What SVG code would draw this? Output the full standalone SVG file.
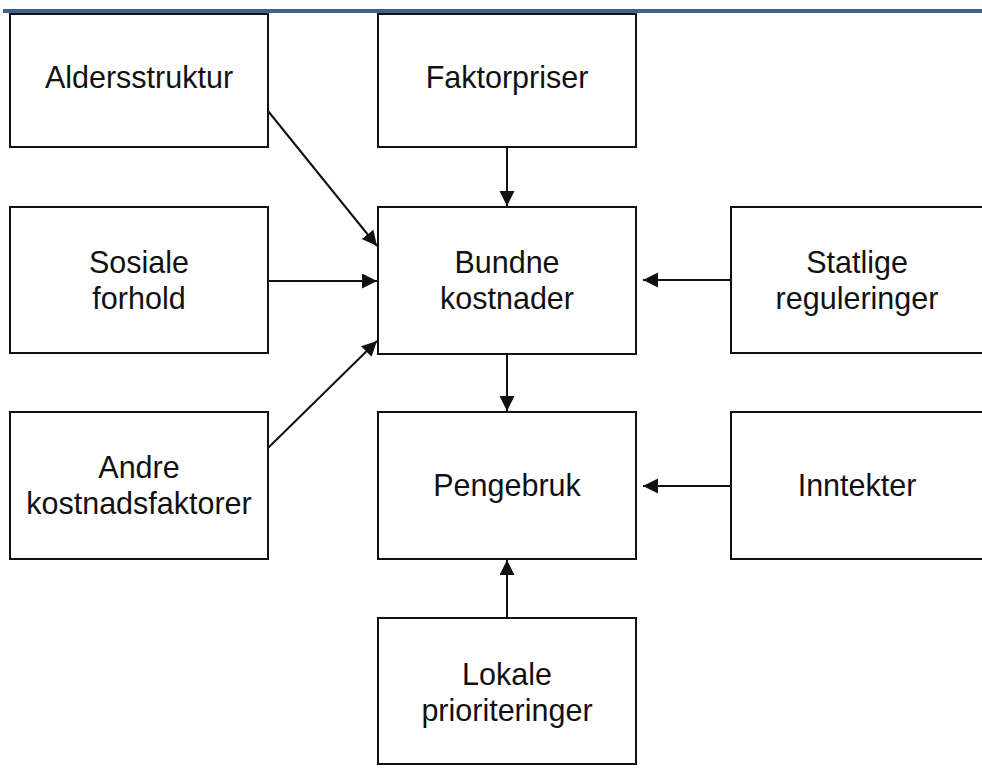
<svg xmlns="http://www.w3.org/2000/svg" width="982" height="778" viewBox="0 0 982 778">
<style>
.box{fill:#fff;stroke:#111;stroke-width:2}
.t{font-family:"Liberation Sans",Arial,sans-serif;font-size:30.5px;fill:#111;text-anchor:middle}
.c{stroke:#111;stroke-width:2;fill:none;marker-end:url(#ah)}
</style>
<defs>
<marker id="ah" markerUnits="userSpaceOnUse" markerWidth="16" markerHeight="16" refX="15" refY="7.5" orient="auto">
<path d="M0,0 L15,7.5 L0,15 Z" fill="#111"/>
</marker>
</defs>
<rect width="982" height="778" fill="#fff"/>
<g id="alder"><rect class="box" x="10" y="14" width="258" height="133"/><text class="t" x="139" y="88">Aldersstruktur</text></g>
<g id="faktor"><rect class="box" x="378" y="14" width="258" height="133"/><text class="t" x="507" y="88">Faktorpriser</text></g>
<g id="sosiale"><rect class="box" x="10" y="207" width="258" height="146"/><text class="t" x="139" y="273">Sosiale</text><text class="t" x="139" y="309">forhold</text></g>
<g id="bundne"><rect class="box" x="378" y="207" width="258" height="147"/><text class="t" x="507" y="273">Bundne</text><text class="t" x="507" y="309">kostnader</text></g>
<g id="statlige"><rect class="box" x="731" y="207" width="260" height="146"/><text class="t" x="857" y="273">Statlige</text><text class="t" x="857" y="309">reguleringer</text></g>
<g id="andre"><rect class="box" x="10" y="412" width="258" height="147"/><text class="t" x="139" y="478">Andre</text><text class="t" x="139" y="514">kostnadsfaktorer</text></g>
<g id="pengebruk"><rect class="box" x="378" y="412" width="258" height="147"/><text class="t" x="507" y="496">Pengebruk</text></g>
<g id="inntekter"><rect class="box" x="731" y="412" width="260" height="147"/><text class="t" x="857" y="496">Inntekter</text></g>
<g id="lokale"><rect class="box" x="378" y="618" width="258" height="146"/><text class="t" x="507" y="685">Lokale</text><text class="t" x="507" y="721">prioriteringer</text></g>
<rect x="3" y="9" width="979" height="4" fill="#41608a"/>
<g id="connectors">
<line class="c" x1="507" y1="147" x2="507" y2="206"/>
<line class="c" x1="268" y1="111" x2="377" y2="246"/>
<line class="c" x1="268" y1="281" x2="377" y2="281"/>
<line class="c" x1="268" y1="448" x2="377" y2="341"/>
<line class="c" x1="731" y1="280" x2="643" y2="280"/>
<line class="c" x1="507" y1="354" x2="507" y2="411"/>
<line class="c" x1="731" y1="486" x2="643" y2="486"/>
<line class="c" x1="507" y1="618" x2="507" y2="560"/>
</g>
</svg>
